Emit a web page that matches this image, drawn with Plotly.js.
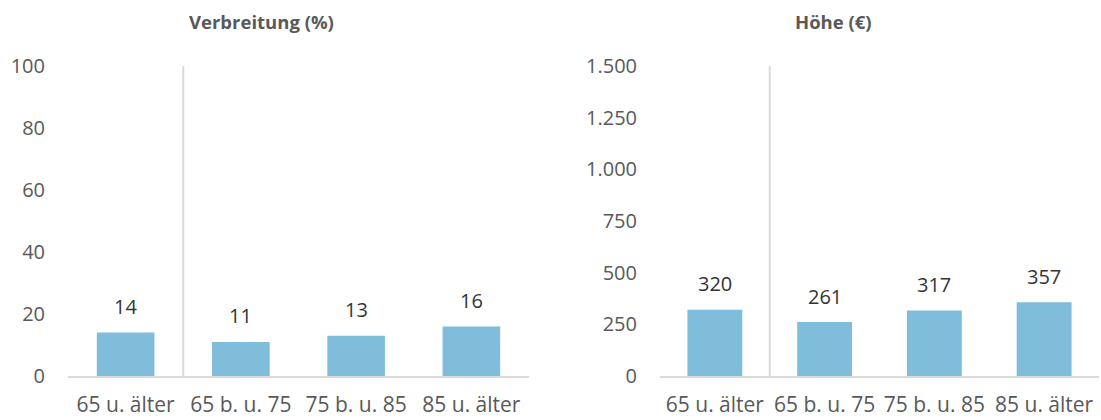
<!DOCTYPE html>
<html><head><meta charset="utf-8">
<script src="https://cdn.plot.ly/plotly-3.0.1.min.js"></script>
<style>html,body{margin:0;padding:0;background:#fff}#c{width:1101px;height:420px}</style>
</head><body><div id="c"></div>
<script>
const categories = ["65 u. älter", "65 b. u. 75", "75 b. u. 85", "85 u. älter"];
const verbreitung = [14, 11, 13, 16];
const hoehe = [320, 261, 317, 357];
const titleLeft = "Verbreitung (%)";
const titleRight = "Höhe (€)";

const barColor = "#80BDDB";
const font = "Open Sans, sans-serif";

const traces = [
  {type: "bar", x: categories, y: verbreitung, xaxis: "x", yaxis: "y", marker: {color: barColor}, hoverinfo: "none"},
  {type: "bar", x: categories, y: hoehe, xaxis: "x2", yaxis: "y2", marker: {color: barColor}, hoverinfo: "none"}
];

const ann = [];
verbreitung.forEach((v, i) => ann.push({x: categories[i], y: v, xref: "x", yref: "y", text: String(v), showarrow: false, yanchor: "middle", yshift: 26, font: {family: font, size: 20, color: "#333333"}}));
hoehe.forEach((v, i) => ann.push({x: categories[i], y: v, xref: "x2", yref: "y2", text: String(v), showarrow: false, yanchor: "middle", yshift: 26, font: {family: font, size: 20, color: "#333333"}}));
ann.push({x: 261/1101, y: 1 - 21/420, xref: "paper", yref: "paper", text: "<b>" + titleLeft + "</b>", showarrow: false, xanchor: "center", yanchor: "middle", font: {family: font, size: 18.5, color: "#595959"}});
ann.push({x: 833/1101, y: 1 - 21/420, xref: "paper", yref: "paper", text: "<b>" + titleRight + "</b>", showarrow: false, xanchor: "center", yanchor: "middle", font: {family: font, size: 18.5, color: "#595959"}});

const yDom = [44/420, 354/420];
const xaxisBase = {type: "category", showgrid: false, zeroline: false, showline: true, linecolor: "#D9D9D9", linewidth: 2, ticks: "", tickfont: {family: font, size: 21, color: "#595959"}, ticklabelstandoff: 9, fixedrange: true};
const yaxisBase = {showgrid: false, zeroline: false, showline: false, ticks: "", tickfont: {family: font, size: 20, color: "#595959"}, ticklabelstandoff: 22, domain: yDom, fixedrange: true};

const layout = {
  width: 1101, height: 420,
  margin: {l: 0, r: 0, t: 0, b: 0},
  paper_bgcolor: "#fff", plot_bgcolor: "#fff",
  showlegend: false,
  bargap: 0.5,
  separators: ",.",
  xaxis: Object.assign({}, xaxisBase, {domain: [68/1101, 529/1101], anchor: "y"}),
  xaxis2: Object.assign({}, xaxisBase, {domain: [660/1101, 1099/1101], anchor: "y2"}),
  yaxis: Object.assign({}, yaxisBase, {range: [0, 100], dtick: 20, anchor: "x"}),
  yaxis2: Object.assign({}, yaxisBase, {range: [0, 1500], dtick: 250, tickformat: ",d", anchor: "x2"}),
  annotations: ann,
  shapes: [
    {type: "line", xref: "x", yref: "paper", x0: 0.5, x1: 0.5, y0: yDom[0], y1: yDom[1], line: {color: "#D9D9D9", width: 2}, layer: "below"},
    {type: "line", xref: "x2", yref: "paper", x0: 0.5, x1: 0.5, y0: yDom[0], y1: yDom[1], line: {color: "#D9D9D9", width: 2}, layer: "below"}
  ]
};

Plotly.newPlot("c", traces, layout, {staticPlot: true, displayModeBar: false});
</script></body></html>
